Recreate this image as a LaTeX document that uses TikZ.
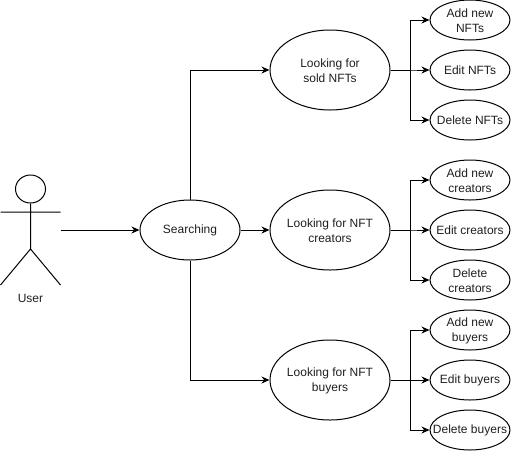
\documentclass[tikz,border=0pt]{standalone}
\usepackage{fontspec}
\setmainfont{Liberation Sans}
\usetikzlibrary{arrows.meta,shapes.geometric}
\newcommand{\topfix}{\rule{0pt}{10.8pt}}
\tikzset{
  px/.style={x=1pt,y=-1pt},
  uc/.style={draw,ellipse,line width=1pt,inner xsep=-16pt,inner ysep=-6pt,align=center,text=black!88,font=\fontsize{12pt}{15pt}\selectfont},
  big/.style={uc,minimum width=120pt,minimum height=80pt},
  mid/.style={uc,minimum width=100pt,minimum height=60pt},
  small/.style={uc,minimum width=80pt,minimum height=40pt},
  conn/.style={draw,line width=1pt,-{Stealth[length=8pt,width=7pt]}},
  lbl/.style={inner sep=0pt,text=black!88,font=\fontsize{12pt}{15pt}\selectfont}
}
\begin{document}
\begin{tikzpicture}[px]
\useasboundingbox (0,0) rectangle (511,451);
\node[draw,ellipse,line width=1pt,minimum width=30pt,minimum height=28pt,inner sep=0pt] (head) at (30.5,189) {};
\coordinate (waist) at (30.5,249);
\coordinate (arml) at (0.5,212);
\coordinate (armr) at (60.5,212);
\coordinate (footl) at (0.5,285);
\coordinate (footr) at (60.5,285);
\coordinate (act) at (60.5,230);
\draw[line width=1pt] (head.south) -- (waist) (arml) -- (armr) (footl) -- (waist) -- (footr);
\node[lbl] (user) at (30.5,298) {User};
\node[mid] (s) at (190,230) {Searching};
\node[big] (a) at (330,70) {\topfix Looking for\\sold NFTs};
\node[big] (b) at (330,230) {\topfix Looking for NFT\\creators};
\node[big] (c) at (330,380) {\topfix Looking for NFT\\buyers};
\node[small] (a1) at (470,20) {\topfix Add new\\NFTs};
\node[small] (a2) at (470,70) {Edit NFTs};
\node[small] (a3) at (470,120) {Delete NFTs};
\node[small] (b1) at (470,180) {\topfix Add new\\creators};
\node[small] (b2) at (470,230) {Edit creators};
\node[small] (b3) at (470,280) {\topfix Delete\\creators};
\node[small] (c1) at (470,330) {\topfix Add new\\buyers};
\node[small] (c2) at (470,380) {Edit buyers};
\node[small] (c3) at (470,430) {Delete buyers};
\draw[conn] (act) -- (s.west);
\draw[conn] (s.east) -- (b.west);
\draw[conn] (s.north) |- (a.west);
\draw[conn] (s.south) |- (c.west);
\foreach \p/\q in {a/a1,a/a2,a/a3,b/b1,b/b2,b/b3,c/c1,c/c2,c/c3}{
  \draw[conn] (\p.east) -- ++(20,0) |- (\q.west);
}
\end{tikzpicture}
\end{document}
